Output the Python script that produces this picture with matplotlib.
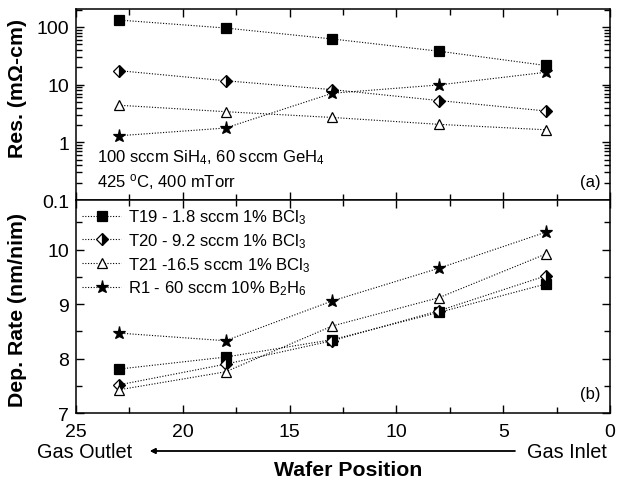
import matplotlib
matplotlib.use("Agg")
import matplotlib.pyplot as plt
from matplotlib.ticker import MultipleLocator, LogLocator, FixedLocator, NullFormatter

plt.rcParams['font.family'] = ['Liberation Sans', 'DejaVu Sans']
plt.rcParams['mathtext.fontset'] = 'custom'
plt.rcParams['mathtext.rm'] = 'Liberation Sans'
plt.rcParams['mathtext.it'] = 'Liberation Sans:italic'
plt.rcParams['mathtext.bf'] = 'Liberation Sans:bold'

# ---- data ----
positions = [23, 18, 13, 8, 3]
series_labels = ["T19 - 1.8 sccm 1% BCl$_3$",
                 "T20 - 9.2 sccm 1% BCl$_3$",
                 "T21 -16.5 sccm 1% BCl$_3$",
                 "R1 - 60 sccm 10% B$_2$H$_6$"]
res_T19 = [132, 96, 62, 38, 21.5]
res_T20 = [17.5, 11.7, 8.2, 5.3, 3.5]
res_T21 = [4.4, 3.4, 2.7, 2.05, 1.65]
res_R1 = [1.3, 1.77, 7.1, 9.9, 16.4]
dep_T19 = [7.81, 8.03, 8.35, 8.85, 9.37]
dep_T20 = [7.52, 7.90, 8.33, 8.88, 9.52]
dep_T21 = [7.43, 7.76, 8.60, 9.12, 9.92]
dep_R1 = [8.47, 8.33, 9.06, 9.66, 10.32]
x_ticks = [25, 20, 15, 10, 5, 0]
res_ticks = [0.1, 1, 10, 100]
res_tick_labels = ["0.1", "1", "10", "100"]
dep_ticks = [7, 8, 9, 10]

styles = [
    dict(marker='s', markersize=7.0, markerfacecolor='black'),
    dict(marker='D', markersize=5.8, markerfacecolor='black', fillstyle='right',
         markerfacecoloralt='white'),
    dict(marker='^', markersize=7.8, markerfacecolor='white'),
    dict(marker='*', markersize=9.5, markerfacecolor='black'),
]
line_kw = dict(color='black', linewidth=0.8, linestyle=(0, (1, 1.5)),
               markeredgecolor='black', markeredgewidth=0.9)

fig = plt.figure(figsize=(6.28, 4.81), dpi=100)
ax1 = fig.add_axes([0.1210, 0.5821, 0.8503, 0.3971])
ax2 = fig.add_axes([0.1210, 0.1387, 0.8503, 0.4435])

for vals, st in zip([res_T19, res_T20, res_T21, res_R1], styles):
    ax1.plot(positions, vals, **line_kw, **st)
for vals, st, lab in zip([dep_T19, dep_T20, dep_T21, dep_R1], styles, series_labels):
    ax2.plot(positions, vals, label=lab, **line_kw, **st)

for ax in (ax1, ax2):
    ax.set_xlim(25, 0)
    ax.xaxis.set_major_locator(FixedLocator(x_ticks))
    ax.xaxis.set_minor_locator(MultipleLocator(2.5))
    ax.tick_params(which='both', direction='in', top=True, right=True, width=1.0)
    ax.tick_params(which='major', length=6, labelsize=14, pad=5)
    ax.tick_params(which='minor', length=4)
    for s in ax.spines.values():
        s.set_linewidth(1.1)

ax1.set_yscale('log')
ax1.set_ylim(0.1, 205)
ax1.yaxis.set_major_locator(FixedLocator(res_ticks))
ax1.set_yticklabels(res_tick_labels)
ax1.yaxis.set_minor_locator(LogLocator(base=10, subs=range(2, 10)))
ax1.yaxis.set_minor_formatter(NullFormatter())
ax1.tick_params(axis='x', labelbottom=False)
ax1.set_ylabel("Res. (m\u03a9-cm)", fontsize=15.3, fontweight='bold')
ax1.yaxis.set_label_coords(-0.092, 0.59)
ax1.text(0.04, 0.225, "100 sccm SiH$_4$, 60 sccm GeH$_4$", transform=ax1.transAxes,
         fontsize=12, va='center', ha='left')
ax1.text(0.04, 0.1, "425 $^{\\mathrm{o}}$C, 400 mTorr", transform=ax1.transAxes,
         fontsize=12, va='center', ha='left')
ax1.text(0.983, 0.095, "(a)", transform=ax1.transAxes, fontsize=12, va='center', ha='right')

ax2.set_ylim(7, 10.91)
ax2.yaxis.set_major_locator(FixedLocator(dep_ticks))
ax2.yaxis.set_minor_locator(MultipleLocator(0.5))
ax2.tick_params(axis='x', pad=7)
ax2.set_ylabel("Dep. Rate (nm/nim)", fontsize=15.3, fontweight='bold')
ax2.yaxis.set_label_coords(-0.092, 0.49)
ax2.text(0.983, 0.095, "(b)", transform=ax2.transAxes, fontsize=12, va='center', ha='right')
ax2.set_xlabel("Wafer Position", fontsize=15.3, fontweight='bold', va='center')
ax2.xaxis.set_label_coords(0.51, -0.265)

ax2.legend(loc='upper left', bbox_to_anchor=(0.012, 0.965), frameon=False, fontsize=12,
           handlelength=2.3, handletextpad=0.45, labelspacing=0.3, borderaxespad=0,
           borderpad=0)

fig.text(85 / 628, 1 - 452 / 481, "Gas Outlet", fontsize=14.3, ha='center', va='center')
fig.text(567 / 628, 1 - 452 / 481, "Gas Inlet", fontsize=14.3, ha='center', va='center')
fig.add_artist(plt.annotate("", xy=(150 / 628, 1 - 452 / 481), xytext=(515 / 628, 1 - 452 / 481),
                            xycoords='figure fraction', textcoords='figure fraction',
                            arrowprops=dict(arrowstyle='-|>', color='black', lw=1.0,
                                            mutation_scale=8, shrinkA=0, shrinkB=0)))

fig.savefig("out.png", dpi=100)
